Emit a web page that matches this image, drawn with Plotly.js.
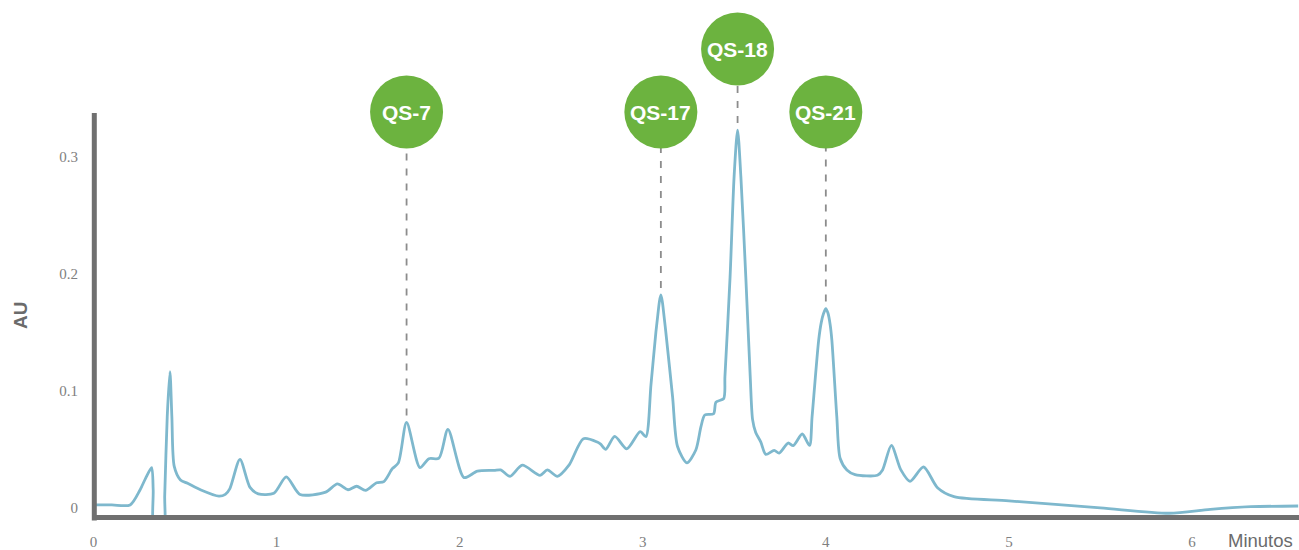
<!DOCTYPE html>
<html>
<head>
<meta charset="utf-8">
<script src="https://cdn.plot.ly/plotly-3.0.1.min.js"></script>
<style>
  html, body { margin: 0; padding: 0; background: #ffffff; }
  #chart { width: 1299px; height: 550px; }
</style>
</head>
<body>
<div id="chart"></div>
<script>
// Chromatogram trace: retention time (min) and absorbance (AU)
const minutes = [
  0.00, 0.10, 0.20, 0.254, 0.285, 0.3175, 0.326, 0.332, 0.383, 0.389, 0.4027, 0.4175, 0.428, 0.441,
  0.475, 0.514, 0.587, 0.685, 0.72, 0.745, 0.80, 0.855, 0.90, 0.985, 1.053, 1.128,
  1.268, 1.332, 1.39, 1.437, 1.486, 1.546, 1.586, 1.632, 1.665, 1.71, 1.783, 1.832,
  1.887, 1.936, 2.024, 2.097, 2.188, 2.224, 2.275, 2.342, 2.439, 2.479, 2.534, 2.597,
  2.676, 2.752, 2.77, 2.798, 2.847, 2.913, 2.986, 3.017, 3.045, 3.072, 3.082, 3.091, 3.099, 3.107,
  3.116, 3.126, 3.163, 3.19, 3.241, 3.29, 3.318, 3.339, 3.387, 3.40, 3.442, 3.449, 3.477, 3.499,
  3.518, 3.536, 3.563, 3.587, 3.60, 3.617, 3.645, 3.672, 3.718, 3.745, 3.794, 3.822,
  3.871, 3.911, 3.925, 3.961, 3.975, 3.988, 4.00, 4.012, 4.024, 4.033, 4.06, 4.078, 4.115, 4.16, 4.282, 4.31,
  4.358, 4.41, 4.46, 4.534, 4.61, 4.70, 5.00, 5.50, 5.876, 6.10, 6.322, 6.58
];
const absorbance = [
  0.002, 0.002, 0.002, 0.0148, 0.025, 0.034, 0.015, -0.02, -0.02, 0.01, 0.0775, 0.116, 0.0775, 0.035,
  0.0234, 0.0205, 0.0148, 0.0095, 0.011, 0.016, 0.041, 0.017, 0.0115, 0.012, 0.026, 0.011,
  0.013, 0.020, 0.015, 0.018, 0.0145, 0.021, 0.022, 0.033, 0.038, 0.0726, 0.034, 0.0416,
  0.042, 0.0667, 0.0254, 0.031, 0.0316, 0.032, 0.0265, 0.036, 0.0274, 0.032, 0.0265, 0.036,
  0.0587, 0.0558, 0.054, 0.0496, 0.0607, 0.050, 0.0647, 0.0604, 0.105, 0.150, 0.164, 0.176, 0.1817, 0.176,
  0.164, 0.150, 0.0946, 0.052, 0.038, 0.049, 0.069, 0.079, 0.080, 0.090, 0.093, 0.112, 0.197, 0.283,
  0.3228, 0.283, 0.197, 0.112, 0.075, 0.064, 0.0558, 0.0453, 0.0487, 0.0464, 0.055, 0.0527,
  0.0627, 0.053, 0.0775, 0.143, 0.158, 0.166, 0.170, 0.166, 0.156, 0.143, 0.0775, 0.042, 0.032, 0.028, 0.0274, 0.032,
  0.053, 0.032, 0.0222, 0.0345, 0.0168, 0.0091, 0.0055, -0.0005, -0.0051, -0.0017, 0.0005, 0.0011
];

// Identified compounds and their retention times
const peakNames = ['QS-7', 'QS-17', 'QS-18', 'QS-21'];
const peakMinutes = [1.71, 3.099, 3.518, 4.00];

// Axis ticks
const xTickVals = [0, 1, 2, 3, 4, 5, 6];
const xTickText = ['0', '1', '2', '3', '4', '5', '6'];
const yTickVals = [0, 0.1, 0.2, 0.3];
const yTickText = ['0', '0.1', '0.2', '0.3'];

// Peak heights come straight from the trace
const peakHeights = peakMinutes.map(function (m) {
  let best = 0;
  for (let i = 1; i < minutes.length; i++) {
    if (Math.abs(minutes[i] - m) < Math.abs(minutes[best] - m)) best = i;
  }
  return absorbance[best];
});

const W = 1299, H = 550;
const margin = { l: 93, r: 0, t: 113, b: 35 };
const plotW = W - margin.l - margin.r;
const plotH = H - margin.t - margin.b;
const pxPerMin = 183.08;
const xRange = [-0.5 / pxPerMin, -0.5 / pxPerMin + plotW / pxPerMin];
const yRange = [-0.00659, 0.33738];
const ySpan = yRange[1] - yRange[0];
const pxToY = ySpan / plotH;
const toPaperY = function (v) { return (v - yRange[0]) / ySpan; };
const toPaperX = function (m) { return (m - xRange[0]) / (xRange[1] - xRange[0]); };

// Badge rows: a peak tall enough to reach the badge row gets lifted to a second row
const BADGE_R = 36.5;
const badgeRow = 0.3382;
const badgeRowHigh = 0.3921;
const badgeY = peakHeights.map(function (h) {
  return h + 20 * pxToY > badgeRow - BADGE_R * pxToY ? badgeRowHigh : badgeRow;
});

const AXIS_COLOR = '#707070';

// Dashed leaders from each peak up to its badge
const leaderShapes = peakMinutes.map(function (m, i) {
  return {
    type: 'line', layer: 'below',
    xref: 'x', yref: 'paper',
    x0: m, x1: m,
    y0: toPaperY(peakHeights[i] + 7 * pxToY),
    y1: toPaperY(badgeY[i]),
    line: { color: '#8c8c8c', width: 1.8, dash: '7px,8px' }
  };
});

// Green badge discs
const badgeShapes = peakMinutes.map(function (m, i) {
  return {
    type: 'circle', layer: 'above',
    xref: 'x', yref: 'paper',
    xsizemode: 'pixel', ysizemode: 'pixel',
    xanchor: m, yanchor: toPaperY(badgeY[i]),
    x0: -BADGE_R, x1: BADGE_R, y0: -BADGE_R, y1: BADGE_R,
    fillcolor: '#6cb33f', line: { width: 0 }
  };
});

// Vertical axis line, running from below the time axis up to the top of the plot
const yAxisLine = {
  type: 'line', layer: 'above',
  xref: 'paper', yref: 'paper',
  x0: toPaperX(0) + 0.8 / plotW, x1: toPaperX(0) + 0.8 / plotW,
  y0: -5.5 / plotH, y1: 1,
  line: { color: AXIS_COLOR, width: 5 }
};

const badgeLabels = peakNames.map(function (name, i) {
  return {
    text: name, xref: 'x', yref: 'paper',
    x: peakMinutes[i], y: toPaperY(badgeY[i]),
    xanchor: 'center', yanchor: 'middle', showarrow: false,
    font: { family: 'Liberation Sans, Arial, sans-serif', size: 21, color: '#ffffff', weight: 700 }
  };
});

const trace = {
  x: minutes, y: absorbance,
  type: 'scatter', mode: 'lines',
  line: { color: '#7eb8cd', width: 2.8, shape: 'spline', smoothing: 0.75 },
  hoverinfo: 'skip'
};

const tickFont = { family: 'Liberation Serif, Times New Roman, serif', size: 15, color: '#808080' };

const layout = {
  width: W, height: H,
  margin: margin,
  paper_bgcolor: '#ffffff', plot_bgcolor: '#ffffff',
  showlegend: false,
  xaxis: {
    range: xRange, tickvals: xTickVals, ticktext: xTickText,
    showline: true, linewidth: 5, linecolor: AXIS_COLOR,
    showgrid: false, zeroline: false, ticks: '',
    tickfont: tickFont, ticklabelstandoff: 9, fixedrange: true
  },
  yaxis: {
    range: yRange, tickvals: yTickVals, ticktext: yTickText,
    showline: false,
    showgrid: false, zeroline: false, ticks: '',
    tickfont: tickFont, ticklabelstandoff: 14, fixedrange: true
  },
  shapes: leaderShapes.concat(badgeShapes, [yAxisLine]),
  annotations: badgeLabels.concat([
    {
      text: 'AU', xref: 'paper', yref: 'paper', x: 0, y: 0.5,
      xanchor: 'center', yanchor: 'middle', xshift: -73, yshift: -2,
      textangle: -90, showarrow: false,
      font: { family: 'Liberation Sans, Arial, sans-serif', size: 19, color: '#6b6b6b', weight: 700 }
    },
    {
      text: 'Minutos', xref: 'paper', yref: 'paper', x: 1, y: 0,
      xanchor: 'right', yanchor: 'middle', xshift: -5, yshift: -25, borderpad: 0,
      showarrow: false,
      font: { family: 'Liberation Sans, Arial, sans-serif', size: 18.5, color: '#6b6b6b' }
    }
  ])
};

Plotly.newPlot('chart', [trace], layout, { displayModeBar: false, staticPlot: true });
</script>
</body>
</html>
